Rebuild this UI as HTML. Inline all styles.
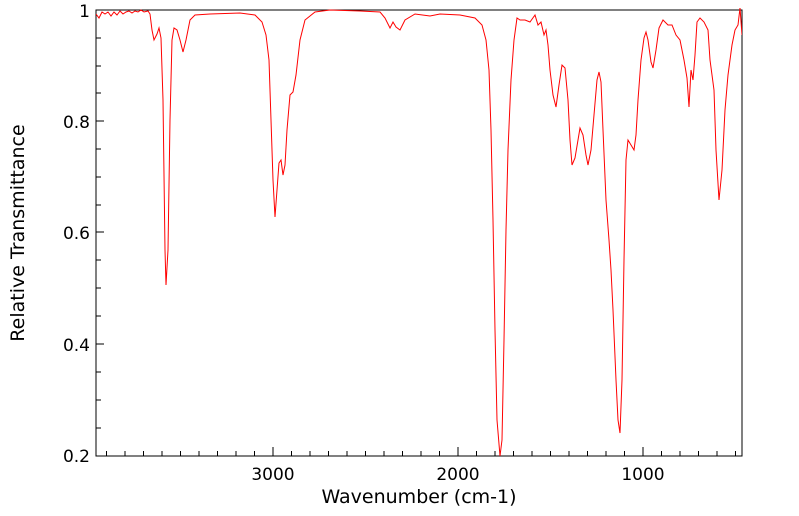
<!DOCTYPE html>
<html><head><style>body{margin:0;background:#fff}svg{display:block}text{font-family:"DejaVu Sans",sans-serif;fill:#000}</style></head>
<body>
<svg width="799" height="516" viewBox="0 0 799 516">
<defs><clipPath id="c"><rect x="96" y="8" width="646" height="449"/></clipPath></defs>
<rect x="96" y="10" width="646" height="446" fill="none" stroke="#000" stroke-width="1"/>
<g stroke="#000" stroke-width="1">
<path d="M96 10h8M96 38h5M96 66h5M96 93h5M96 121h8M96 149h5M96 177h5M96 205h5M96 232h8M96 260h5M96 288h5M96 316h5M96 344h8M96 372h5M96 400h5M96 428h5"/>
<path d="M106.5 456v-5M125 456v-5M143.5 456v-5M162 456v-5M180.5 456v-5M199 456v-5M217.5 456v-5M236 456v-5M254.5 456v-5M273 456v-9M291.5 456v-5M310 456v-5M328.5 456v-5M347 456v-5M365.5 456v-5M384 456v-5M402.5 456v-5M421 456v-5M439.5 456v-5M458 456v-9M476.5 456v-5M495 456v-5M513.5 456v-5M532 456v-5M550.5 456v-5M569 456v-5M587.5 456v-5M606 456v-5M624.5 456v-5M643 456v-9M661.5 456v-5M680 456v-5M698.5 456v-5M717 456v-5M735.5 456v-5"/>
</g>
<g font-size="17" text-anchor="end">
<text x="90" y="17">1</text><text x="90" y="128">0.8</text><text x="90" y="239">0.6</text><text x="90" y="351">0.4</text><text x="90" y="462">0.2</text>
</g>
<g font-size="17" text-anchor="middle">
<text x="273" y="480">3000</text><text x="458" y="480">2000</text><text x="643" y="480">1000</text>
<text x="419" y="503" font-size="19">Wavenumber (cm-1)</text>
</g>
<text font-size="19" text-anchor="middle" transform="translate(24,233) rotate(-90)">Relative Transmittance</text>
<polyline clip-path="url(#c)" fill="none" stroke="#f00" stroke-width="1" points="96,14 99,18 102,12 105,14 108,12 111,16 114,12 117,15 120,11 123,14 126,12 129,11 132,13 135,11 138,12 141,10 144,12 148,11 150,14 152,30 154,40 157,34 159,28 161,38 163,100 165,250 166,285 168,250 170,120 172,40 174,28 177,30 180,40 183,52 186,40 190,20 195,15 210,14 240,13 255,15 262,22 266,35 269,60 271,120 273,180 275,217 277,190 279,163 281,160 283,175 285,165 287,130 290,95 293,92 296,75 300,40 305,20 315,12 330,10 360,11 380,12 385,18 390,28 393,22 396,27 400,30 405,20 415,14 430,16 440,14 460,15 475,18 482,25 486,40 489,70 491,130 493,220 495,330 497,420 500,456 502,440 504,340 506,230 508,150 511,80 514,40 517,18 520,20 525,20 530,22 535,15 538,25 541,22 544,35 546,30 548,45 550,70 553,95 556,107 559,85 562,65 565,68 568,100 570,140 572,165 575,158 578,140 580,128 583,135 586,155 588,165 591,150 594,115 597,80 599,72 601,82 603,130 606,200 609,240 611,270 613,310 616,380 618,420 620,433 622,380 624,260 626,160 628,140 631,145 634,150 636,135 638,100 641,60 644,38 646,32 648,40 651,62 653,68 656,50 659,28 663,20 668,25 672,25 676,35 680,40 684,60 687,78 689,107 691,70 693,80 695,55 697,22 700,18 704,22 708,30 710,60 714,90 716,150 719,200 722,170 725,110 728,75 732,45 735,30 738,25 740,8 742,35"/>
</svg>
</body></html>
